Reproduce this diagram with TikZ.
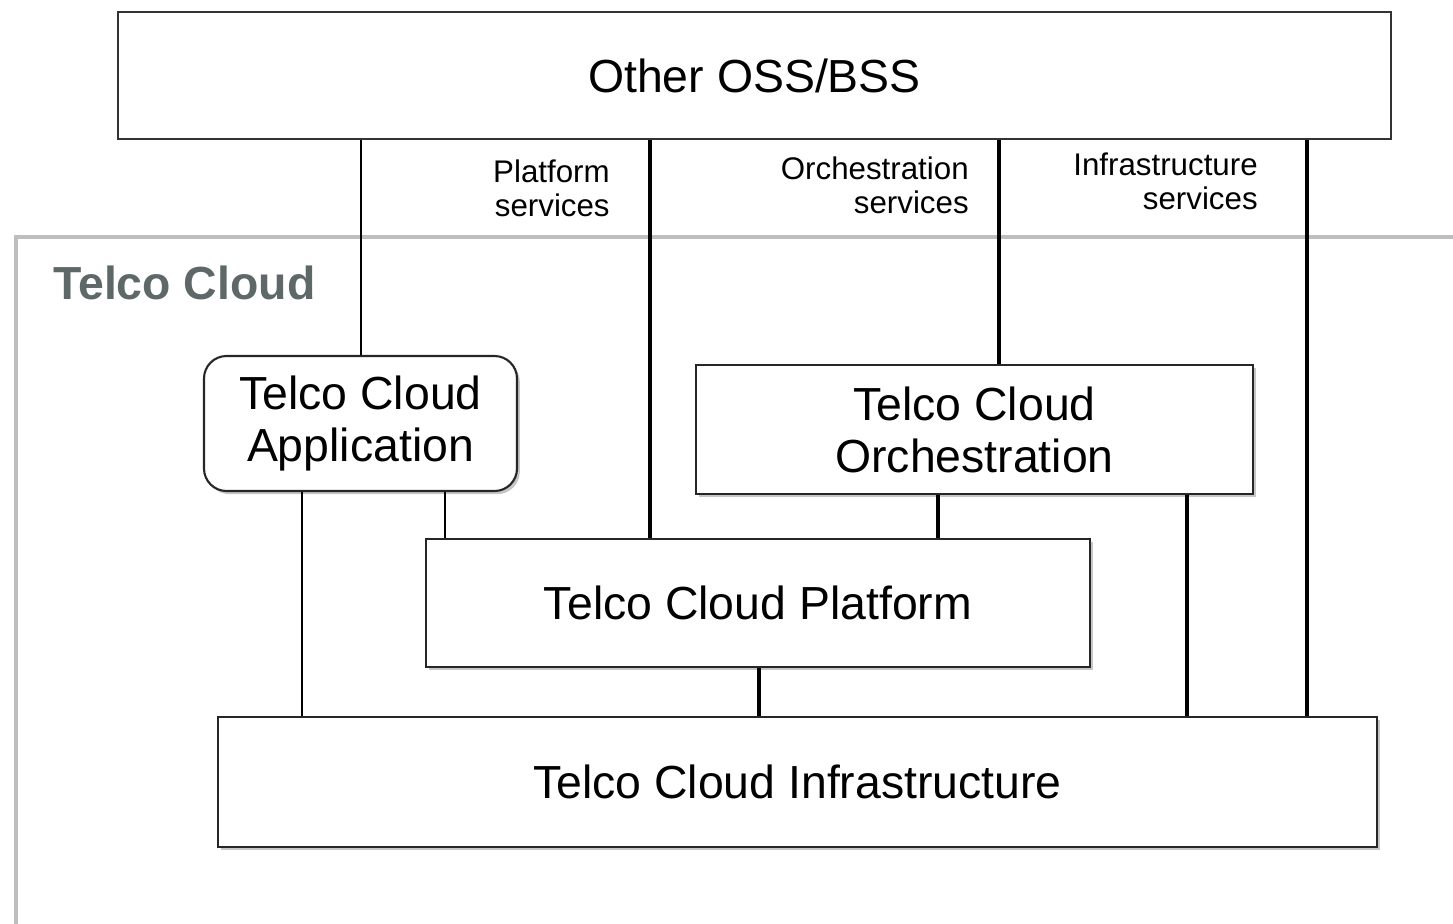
\documentclass[tikz,border=0pt]{standalone}
\usepackage{fontspec}
\setmainfont{Liberation Sans}
\usetikzlibrary{positioning,shadows}
\definecolor{cloudgray}{RGB}{95,104,104}
\definecolor{framegray}{RGB}{190,190,190}
\tikzset{
  plainbox/.style={draw=black!80, line width=1.2pt, fill=white, inner sep=0pt, align=center,
    font=\fontsize{26.4}{29.5}\selectfont},
  layer/.style={plainbox, draw=black!85,
    drop shadow={shadow xshift=1.6pt, shadow yshift=-1.8pt, opacity=0.45}},
  svclabel/.style={align=right, inner sep=0pt, anchor=east, font=\fontsize{17.8}{19.3}\selectfont},
  thinlink/.style={line width=1.3pt},
  thicklink/.style={line width=2pt}
}
\begin{document}
\begin{tikzpicture}
        \useasboundingbox (0,0) rectangle (29.06,-18.46);
        % Telco Cloud frame
        \draw[framegray, line width=2.2pt] (0.32,-18.6) -- (0.32,-4.74) -- (29.2,-4.74);
        \node[anchor=west, inner sep=0pt, text=cloudgray, font=\fontsize{26.4}{29}\selectfont\bfseries] (cloud) at (1.06,-5.66) {Telco Cloud};
        % Define nodes
        \node[plainbox, minimum width=25.46cm, minimum height=2.54cm] (oss) at (15.09,-1.51) {Other OSS/BSS};
        \node[layer, rounded corners=0.45cm, minimum width=6.26cm, minimum height=2.70cm] (app) at (7.21,-8.47) {Telco Cloud\\Application};
        \node[layer, minimum width=11.14cm, minimum height=2.58cm] (orch) at (19.49,-8.59) {Telco Cloud\\Orchestration};
        \node[layer, minimum width=13.28cm, minimum height=2.56cm] (plat) at (15.16,-12.06) {Telco Cloud Platform};
        \node[layer, minimum width=23.18cm, minimum height=2.60cm] (infra) at (15.95,-15.64) {Telco Cloud Infrastructure};
        % Service labels
        \node[svclabel] (platsvc) at (12.2,-3.76) {Platform\\services};
        \node[svclabel] (orchsvc) at (19.38,-3.70) {Orchestration\\services};
        \node[svclabel] (infrasvc) at (25.16,-3.62) {Infrastructure\\services};
        % Link positions
        \coordinate (xa) at (7.22,0);
        \coordinate (xb) at (13.0,0);
        \coordinate (xc) at (19.98,0);
        \coordinate (xd) at (26.14,0);
        \coordinate (xe) at (6.04,0);
        \coordinate (xf) at (8.90,0);
        \coordinate (xg) at (18.76,0);
        \coordinate (xh) at (23.74,0);
        \coordinate (xi) at (15.18,0);
        % Connect nodes
        \draw[thinlink] (oss.south -| xa) -- (app.north -| xa);
        \draw[thicklink] (oss.south -| xb) -- (plat.north -| xb);
        \draw[thicklink] (oss.south -| xc) -- (orch.north -| xc);
        \draw[thicklink] (oss.south -| xd) -- (infra.north -| xd);
        \draw[thinlink] (app.south -| xe) -- (infra.north -| xe);
        \draw[thinlink] (app.south -| xf) -- (plat.north -| xf);
        \draw[thicklink] (orch.south -| xg) -- (plat.north -| xg);
        \draw[thicklink] (orch.south -| xh) -- (infra.north -| xh);
        \draw[thicklink] (plat.south -| xi) -- (infra.north -| xi);
    \end{tikzpicture}
\end{document}
